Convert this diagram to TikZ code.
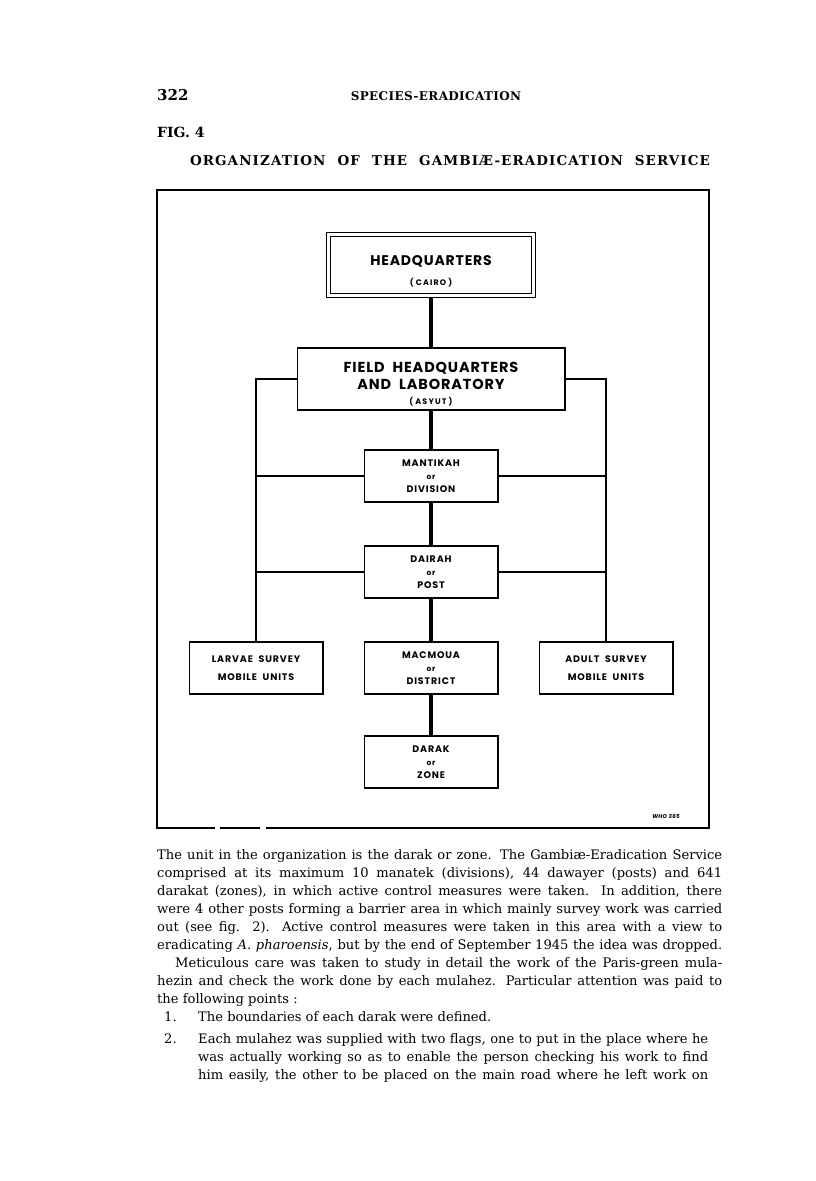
\documentclass[tikz,border=0pt]{standalone}
\usepackage{fontspec}
\setmainfont{DejaVu Serif}
\newfontfamily\lettering{Poppins}[LetterSpace=6]
\usetikzlibrary{positioning}

\newcommand{\orword}{{\fontsize{7.5}{13}\selectfont or}}
\newcommand{\smalltag}[1]{{\fontsize{8}{8}\selectfont\addfontfeatures{LetterSpace=14}(\;#1\;)}}

\begin{document}
\begin{tikzpicture}[
  x=1pt, y=-1pt,
  hqbox/.style={draw, double, double distance=2.6pt, line width=1.4pt,
                minimum width=204.6pt, minimum height=60.6pt, outer sep=2.7pt,
                inner sep=0pt, align=center,
                font=\lettering\bfseries\fontsize{14}{20}\selectfont},
  fieldbox/.style={draw, line width=1.6pt, minimum width=267.4pt,
                   minimum height=62.4pt, outer sep=0.8pt, inner sep=0pt,
                   align=center, font=\lettering\bfseries\fontsize{14.5}{17}\selectfont},
  unitbox/.style={draw, line width=1.6pt, minimum width=133.4pt,
                  minimum height=52.4pt, outer sep=0.8pt, inner sep=0pt,
                  align=center, font=\lettering\bfseries\fontsize{9.5}{13}\selectfont\addfontfeatures{LetterSpace=9}},
  spine/.style={line width=4.6pt},
  branch/.style={line width=2.6pt},
  bodytext/.style={anchor=north west, inner sep=0pt, align=justify,
                   font=\fontsize{13.1}{18}\selectfont}
]
\path[use as bounding box, fill=white] (0,0) rectangle (816,1181);

% running head and caption
\node[anchor=base west, inner sep=0pt, font=\bfseries\fontsize{15}{17}\selectfont]
      (page) at (157,100) {322};
\node[anchor=base, inner sep=0pt, font=\bfseries\fontsize{12}{13}\selectfont]
      (head) at (436,100) {\addfontfeatures{LetterSpace=3}SPECIES-ERADICATION};
\node[anchor=base west, inner sep=0pt, font=\bfseries\fontsize{14}{16}\selectfont]
      (fig) at (157,137) {FIG. 4};
\node[anchor=base, inner sep=0pt, font=\bfseries\fontsize{13.5}{15}\selectfont]
      (title) at (450,165) {\addfontfeatures{LetterSpace=8}\makebox[520pt][s]{ORGANIZATION OF THE GAMBIÆ-ERADICATION SERVICE}};

% frame of the figure
\draw[line width=1.3pt] (266,828) -- (709,828) -- (709,190) -- (157,190) -- (157,828) -- (215,828)
      (220,828) -- (260,828);

% the chart
\node[hqbox] (hq) at (431,265) {\rule{0pt}{22pt}HEADQUARTERS\\\smalltag{CAIRO}};
\node[fieldbox, below=49pt of hq] (fhq)
      {\rule{0pt}{20pt}FIELD\ \ HEADQUARTERS\\AND\ \ LABORATORY\\[-2pt]\smalltag{ASYUT}};
\node[unitbox, below=38pt of fhq] (mant) {MANTIKAH\\\orword\\DIVISION};
\node[unitbox, below=42pt of mant] (dair) {DAIRAH\\\orword\\POST};
\node[unitbox, below=42pt of dair] (macm) {MACMOUA\\\orword\\DISTRICT};
\node[unitbox, below=40pt of macm] (darak) {DARAK\\\orword\\ZONE};
\node[unitbox, left=40pt of macm] (larv) {LARVAE\ \ SURVEY\\[5pt]MOBILE\ \ UNITS};
\node[unitbox, right=40pt of macm] (adlt) {ADULT\ \ SURVEY\\[5pt]MOBILE\ \ UNITS};

\draw[spine] (hq) -- (fhq);
\draw[spine] (fhq) -- (mant);
\draw[spine] (mant) -- (dair);
\draw[spine] (dair) -- (macm);
\draw[spine] (macm) -- (darak);

\draw[branch] (fhq.west) -| (larv.north);
\draw[branch] (fhq.east) -| (adlt.north);
\draw[branch] (mant.west) -- (mant.west -| larv.north);
\draw[branch] (mant.east) -- (mant.east -| adlt.north);
\draw[branch] (dair.west) -- (dair.west -| larv.north);
\draw[branch] (dair.east) -- (dair.east -| adlt.north);

\node[anchor=base, inner sep=0pt, font=\lettering\bfseries\itshape\fontsize{5.5}{6}\selectfont]
      (who) at (666,818) {WHO 365};

% text of the page
\node[bodytext, text width=565pt] (text) at (157,849)
  {{\parfillskip=0pt The unit in the organization is the darak or zone. The Gambiæ-Eradication Service\linebreak
   comprised at its maximum 10 manatek (divisions), 44 dawayer (posts) and 641\linebreak
   darakat (zones), in which active control measures were taken. In addition, there\linebreak
   were 4 other posts forming a barrier area in which mainly survey work was carried\linebreak
   out (see fig. 2). Active control measures were taken in this area with a view to\linebreak
   eradicating \textit{A. pharoensis}, but by the end of September 1945 the idea was dropped.\par}
   \hspace*{18pt}Meticulous care was taken to study in detail the work of the Paris-green mula-\linebreak
   hezin and check the work done by each mulahez. Particular attention was paid to\linebreak
   the following points :\par};

\node[anchor=base west, inner sep=0pt, font=\fontsize{13.1}{18}\selectfont] (num1) at (164,1021) {1.};
\node[anchor=base west, inner sep=0pt, font=\fontsize{13.1}{18}\selectfont] (item1) at (198,1021)
  {The boundaries of each darak were defined.};
\node[anchor=base west, inner sep=0pt, font=\fontsize{13.1}{18}\selectfont] (num2) at (164,1043) {2.};
\node[bodytext, text width=510pt] (item2) at (198,1033)
  {{\parfillskip=0pt Each mulahez was supplied with two flags, one to put in the place where he\linebreak
   was actually working so as to enable the person checking his work to find\linebreak
   him easily, the other to be placed on the main road where he left work on\par}};
\end{tikzpicture}
\end{document}
